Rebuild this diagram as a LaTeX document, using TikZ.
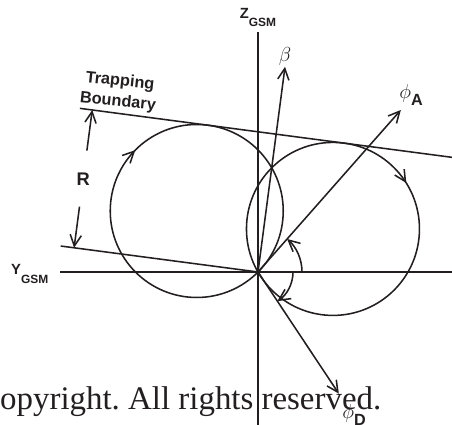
\documentclass[tikz,border=0pt]{standalone}
\usepackage{fontspec}
\setsansfont{Liberation Sans}
\newfontfamily\notefont{Liberation Serif}
\usepackage{tikz}
\usetikzlibrary{arrows.meta,positioning,calc,decorations.markings}
\definecolor{ink}{HTML}{231F20}
\newcommand{\lowsub}[1]{\raisebox{-5.8pt}{\fontsize{8.5}{10}\selectfont #1}}

\begin{document}
\begin{tikzpicture}[
  x=0.025cm,y=0.025cm,
  every node/.style={font=\sffamily\bfseries,text=ink,inner sep=1pt},
  axis/.style={draw=ink,line width=1.2pt},
  boundary/.style={draw=ink,line width=1.1pt},
  vec/.style={-{Straight Barb[length=2.8mm,width=2.8mm]},draw=ink,line width=1.1pt},
  orbit/.style={draw=ink,line width=1.1pt,postaction={decorate},
    decoration={markings,mark=at position #1 with {\arrowreversed{Straight Barb[length=2.8mm,width=2.8mm]}}}},
  axlabel/.style={font=\fontsize{10.5}{12}\selectfont\sffamily\bfseries},
  anglabel/.style={font=\fontsize{13.5}{15}\selectfont}
]
  \useasboundingbox (-258,-153) rectangle (194,272);

  % GSM axes through the origin.
  \coordinate (O) at (0,0);
  \coordinate (ztop) at (0,240);
  \coordinate (zbot) at (0,-153);
  \coordinate (yleft) at (-198,0);
  \coordinate (yright) at (194,0);
  \draw[axis] (zbot) -- (ztop);
  \draw[axis] (yleft) -- (yright);
  \node[axlabel,anchor=south] (zlab) at ([yshift=0.1cm]ztop) {Z\lowsub{GSM}};
  \node[axlabel,left=0.25cm of yleft,yshift=-0.05cm] (ylab) {Y\lowsub{GSM}};

  % Trapping boundary, tilted 7.5 deg, at distance R from the origin.
  \coordinate (ub1) at ($(O)+(82.5:139)+(172.5:198)$);
  \coordinate (ub2) at ($(O)+(82.5:139)+(-7.5:178)$);
  \coordinate (lb1) at ($(O)+(172.5:199)$);
  \draw[boundary] (ub1) -- (ub2);
  \draw[boundary] (lb1) -- (O);
  \node[font=\fontsize{11.6}{14.8}\selectfont\sffamily\bfseries,align=center,rotate=-6] (trap) at (-139,180) {Trapping\\Boundary};

  % R dimension between the two parallel lines.
  \coordinate (rfoot) at ($(O)+(172.5:185.5)$);
  \coordinate (rtop) at ($(rfoot)+(82.5:139)$);
  \node[font=\fontsize{13}{15}\selectfont\sffamily\bfseries] (rlab) at ($(rfoot)+(82.5:69.5)$) {R};
  \draw[vec] ($(rfoot)+(82.5:98)$) -- (rtop);
  \draw[vec] ($(rfoot)+(82.5:41.5)$) -- (rfoot);

  % Two circles through the origin, tangent to the boundary.
  \coordinate (cl) at ($(O)+(172.5:68.7)+(82.5:52.5)$);
  \coordinate (cr) at ($(O)+(-7.5:68.7)+(82.5:52.5)$);
  \draw[orbit=0.376] (cl) circle[radius=86.5];
  \draw[orbit=0.089] (cr) circle[radius=86.5];

  % Direction vectors and angles.
  \coordinate (beta) at (82.5:207);
  \coordinate (phiA) at (48.6:216);
  \coordinate (phiD) at (-56.4:146);
  \draw[vec] (O) -- (beta);
  \draw[vec] (O) -- (phiA);
  \draw[vec] (O) -- (phiD);
  \node[anglabel,anchor=south] (betalab) at (beta) {$\beta$};
  \node[anglabel,anchor=south west] (phiAlab) at ([xshift=-0.08cm,yshift=0.08cm]phiA) {$\phi$\raisebox{-5pt}{\fontsize{11.5}{13}\selectfont\sffamily\bfseries A}};
  \node[anglabel,anchor=north west] (phiDlab) at ([xshift=0.05cm,yshift=-0.22cm]phiD) {$\phi$\raisebox{-5pt}{\fontsize{11.5}{13}\selectfont\sffamily\bfseries D}};
  \draw[vec] ($(O)+(0:44)$) arc[start angle=0,end angle=48.6,radius=44];
  \draw[vec] ($(O)+(0:35)$) arc[start angle=0,end angle=-56.4,radius=35];

  % Notice printed across the bottom.
  \node[font=\notefont\fontsize{23.4}{26}\selectfont,anchor=base west,inner sep=0pt] (note) at (-280,-138) {Copyright.\ All rights reserved.};
\end{tikzpicture}
\end{document}
